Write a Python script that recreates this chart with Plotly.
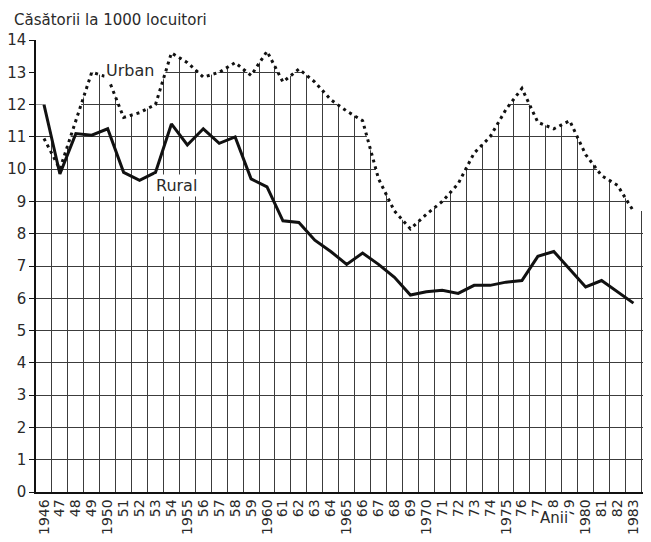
import plotly.graph_objects as go
import numpy as np

years = list(range(1946, 1984))
tick_labels = ["1946", "47", "48", "49", "1950", "51", "52", "53", "54", "1955",
               "56", "57", "58", "59", "1960", "61", "62", "63", "64", "1965",
               "66", "67", "68", "69", "1970", "71", "72", "73", "74", "1975",
               "76", "77", "78", "79", "1980", "81", "82", "1983"]

urban = [10.95, 10.0, 11.5, 13.0, 12.85, 11.6, 11.75, 12.0, 13.6, 13.3,
         12.85, 13.0, 13.3, 12.9, 13.65, 12.7, 13.1, 12.7, 12.15, 11.8,
         11.5, 9.7, 8.7, 8.15, 8.6, 9.0, 9.55, 10.5, 11.0, 11.85,
         12.5, 11.45, 11.25, 11.5, 10.45, 9.8, 9.5, 8.7]

rural = [12.0, 9.85, 11.1, 11.05, 11.25, 9.9, 9.65, 9.9, 11.4, 10.75,
         11.25, 10.8, 11.0, 9.7, 9.45, 8.4, 8.35, 7.8, 7.45, 7.05,
         7.4, 7.05, 6.65, 6.1, 6.2, 6.25, 6.15, 6.4, 6.4, 6.5,
         6.55, 7.3, 7.45, 6.9, 6.35, 6.55, 6.2, 5.85]

y_ticks = list(range(0, 15))

FONT = "DejaVu Sans"
INK = "#2a2a2a"
GRID = "#3c3c3c"

# envelope of both series, used to mask the grid above the curves
env = list(np.maximum(urban, rural))
x_env = [years[0] - 0.5] + years + [years[-1] + 0.7]
y_env = [env[0]] + env + [env[-1]]
y_top = [max(y_ticks) + 1] * len(x_env)

fig = go.Figure()
fig.add_trace(go.Scatter(x=x_env, y=y_env, mode="lines", line=dict(width=0),
                         showlegend=False, hoverinfo="skip"))
fig.add_trace(go.Scatter(x=x_env, y=y_top, mode="lines", line=dict(width=0),
                         fill="tonexty", fillcolor="white",
                         showlegend=False, hoverinfo="skip"))
fig.add_trace(go.Scatter(x=years, y=urban, mode="lines", name="Urban",
                         line=dict(color="#111111", width=3, dash="3px,4px"),
                         showlegend=False))
fig.add_trace(go.Scatter(x=years, y=rural, mode="lines", name="Rural",
                         line=dict(color="#111111", width=3),
                         showlegend=False))

# the page body has an 8px default margin on every side
fig.update_layout(
    width=635, height=526,
    margin=dict(l=28, r=0, t=32, b=42),
    paper_bgcolor="white", plot_bgcolor="white",
    font=dict(family=FONT, color=INK),
    xaxis=dict(
        range=[years[0] - 0.5, years[-1] + 0.6],
        tickmode="array", tickvals=years, ticktext=tick_labels,
        tickangle=-90, tickfont=dict(size=14, color=INK),
        showgrid=False, zeroline=False, ticks="",
        showline=True, linecolor="#111111", linewidth=1.5,
        minor=dict(tick0=years[0] - 0.5, dtick=1, showgrid=True,
                   gridcolor=GRID, gridwidth=1.2, ticks=""),
        automargin=False,
    ),
    yaxis=dict(
        range=[0, 14], tickmode="array", tickvals=y_ticks,
        tickfont=dict(size=15, color=INK),
        showgrid=True, gridcolor=GRID, gridwidth=1.2, zeroline=False,
        ticks="outside", ticklen=5, tickcolor="#111111",
        showline=True, linecolor="#111111", linewidth=1.5,
        automargin=False,
    ),
    annotations=[
        dict(text="Căsătorii la 1000 locuitori", xref="paper", yref="paper",
             x=-24 / 607, y=(492 - 20) / 452, xanchor="left", yanchor="middle",
             showarrow=False, font=dict(size=15, color=INK)),
        dict(text="Urban", xref="x", yref="y", x=1951.4, y=13.07,
             showarrow=False, font=dict(size=16, color=INK), bgcolor="white"),
        dict(text="Rural", xref="x", yref="y", x=1954.3, y=9.5,
             showarrow=False, font=dict(size=16, color=INK), bgcolor="white"),
        dict(text="Anii", xref="x", yref="paper", x=1978.0, y=(492 - 529) / 452,
             showarrow=False, font=dict(size=15, color=INK), bgcolor="white"),
    ],
)

fig.write_html("out.html")
